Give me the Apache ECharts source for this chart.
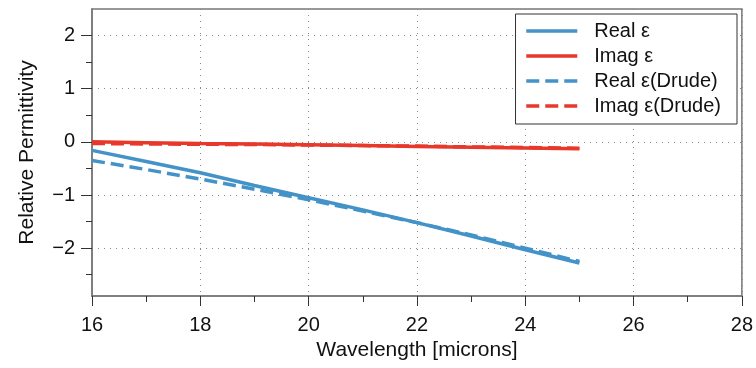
<!DOCTYPE html>
<html>
<head>
<meta charset="utf-8">
<script src="https://cdn.jsdelivr.net/npm/echarts@6/dist/echarts.min.js"></script>
<style>html,body{margin:0;padding:0;background:#fff}#c{width:756px;height:368px}</style>
</head>
<body>
<div id="c"></div>
<script>
var wavelength = [16, 17, 18, 19, 20, 21, 22, 23, 24, 25];
var realEps = [-0.16, -0.37, -0.58, -0.82, -1.05, -1.28, -1.52, -1.77, -2.03, -2.28];
var imagEps = [0.00, -0.015, -0.03, -0.04, -0.055, -0.07, -0.085, -0.10, -0.115, -0.13];
var realDrude = [-0.35, -0.52, -0.70, -0.89, -1.09, -1.30, -1.52, -1.75, -2.00, -2.25];
var imagDrude = [-0.03, -0.04, -0.045, -0.05, -0.06, -0.07, -0.08, -0.095, -0.105, -0.12];
var yMajorTicks = [-2, -1, 0, 1, 2];
var yMinorTicks = [-2.5, -1.5, -0.5, 0.5, 1.5];
var seriesNames = ['Real ε', 'Imag ε', 'Real ε(Drude)', 'Imag ε(Drude)'];

var BLUE = '#4393c8', RED = '#e8382b';
var FONT = 'Liberation Sans';
function pairs(xs, ys) { return xs.map(function (x, i) { return [x, ys[i]]; }); }
function mk(name, ys, color, dashed) {
  return {
    name: name, type: 'line', data: pairs(wavelength, ys), showSymbol: false, symbol: 'none',
    lineStyle: { color: color, width: 3.5, type: dashed ? [13, 6] : 'solid' },
    itemStyle: { color: color }, animation: false, z: dashed ? 3 : 2
  };
}
var chart = echarts.init(document.getElementById('c'), null, { renderer: 'canvas' });
chart.setOption({
  animation: false,
  backgroundColor: '#fff',
  textStyle: { fontFamily: FONT },
  grid: { left: 92, right: 12, top: 9, bottom: 72, show: true, borderColor: '#777', borderWidth: 1.5, backgroundColor: 'transparent' },
  legend: {
    orient: 'vertical', right: 19, top: 14,
    data: seriesNames,
    itemWidth: 51, itemHeight: 14, itemGap: 5,
    padding: [7, 16, 8, 9],
    backgroundColor: '#fff', borderColor: '#333', borderWidth: 1,
    itemStyle: { opacity: 0 },
    lineStyle: { width: 3.5 },
    textStyle: { fontFamily: FONT, fontSize: 20, color: '#111', padding: [0, 0, 0, 12] },
    selectedMode: false
  },
  xAxis: {
    type: 'value', min: 16, max: 28, interval: 2,
    name: 'Wavelength [microns]', nameLocation: 'middle', nameGap: 42,
    nameTextStyle: { fontFamily: FONT, fontSize: 21, color: '#111' },
    axisLine: { show: true, onZero: false, lineStyle: { color: '#777', width: 1.5 } },
    axisTick: { show: true, length: 10, lineStyle: { color: '#333', width: 1 } },
    minorTick: { show: true, splitNumber: 2, length: 6, lineStyle: { color: '#333', width: 1 } },
    axisLabel: { fontFamily: FONT, fontSize: 20, color: '#111', margin: 19 },
    splitLine: { show: true, lineStyle: { color: '#888', width: 1, type: [1, 5] } }
  },
  yAxis: [{
    type: 'value', min: -2.9, max: 2.5,
    name: 'Relative Permittivity', nameLocation: 'middle', nameGap: 54,
    nameTextStyle: { fontFamily: FONT, fontSize: 21, color: '#111' },
    axisLine: { show: true, onZero: false, lineStyle: { color: '#777', width: 1.5 } },
    axisTick: { show: true, length: 11, customValues: yMajorTicks, lineStyle: { color: '#333', width: 1 } },
    axisLabel: { fontFamily: FONT, fontSize: 20, color: '#111', margin: 17, customValues: yMajorTicks,
      formatter: function (v) { return v < 0 ? '\u2212' + Math.abs(v) : String(v); } },
    splitLine: { show: true, lineStyle: { color: '#888', width: 1, type: [1, 5] } }
  }, {
    type: 'value', min: -2.9, max: 2.5, position: 'left',
    axisLine: { show: false },
    axisTick: { show: true, length: 6, customValues: yMinorTicks, lineStyle: { color: '#333', width: 1 } },
    axisLabel: { show: false },
    splitLine: { show: false }
  }],
  series: [
    mk(seriesNames[0], realEps, BLUE, false),
    mk(seriesNames[1], imagEps, RED, false),
    mk(seriesNames[2], realDrude, BLUE, true),
    mk(seriesNames[3], imagDrude, RED, true)
  ]
});
</script>
</body>
</html>
